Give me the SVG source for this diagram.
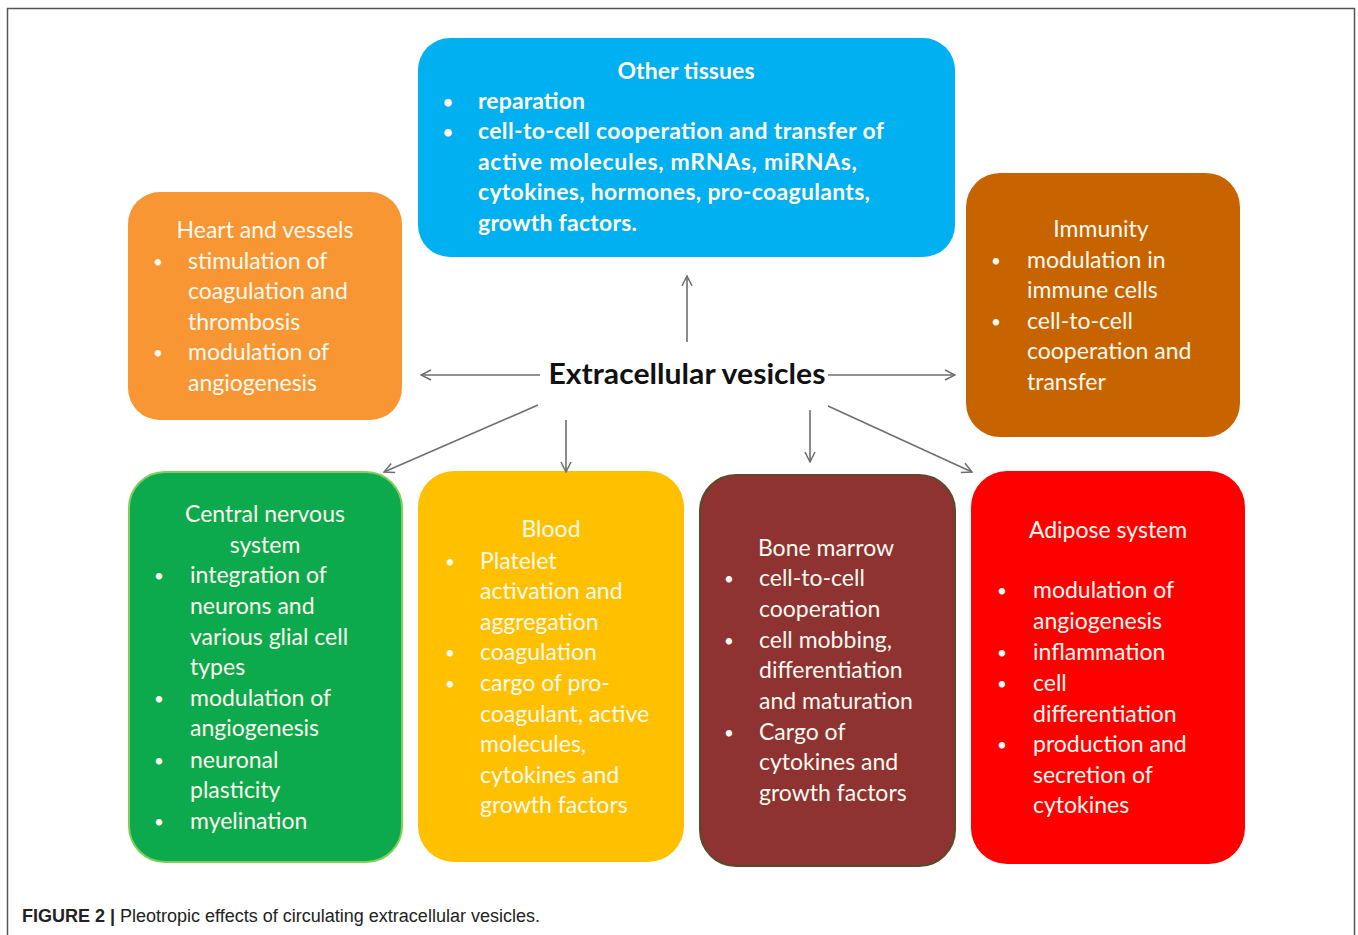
<svg xmlns="http://www.w3.org/2000/svg" width="1358" height="935" viewBox="0 0 1358 935">
<defs>
<style>
.t{font-family:Lato,"Open Sans","Liberation Sans",sans-serif;font-size:23px;fill:#FFFAF0}
.u{font-family:Lato,"Open Sans","Liberation Sans",sans-serif;font-size:17px;fill:#FFFAF0}
.b{font-weight:bold}
.c{text-anchor:middle}
.conn line{stroke:#6E6E6E;stroke-width:1.6;fill:none;marker-end:url(#ah)}
</style>
<marker id="ah" viewBox="0 0 12 12" refX="11" refY="6" markerWidth="12" markerHeight="12" markerUnits="userSpaceOnUse" orient="auto">
<path d="M1,1 L11,6 L1,11" fill="none" stroke="#6E6E6E" stroke-width="1.5"/>
</marker>
</defs>
<rect x="0" y="0" width="1358" height="935" fill="#FFFFFF"/>
<rect x="7.5" y="8.5" width="1347" height="940" fill="none" stroke="#555555" stroke-width="1.5"/>

<g id="other-tissues">
<rect x="418" y="38" width="537" height="219" rx="32" fill="#00B0F0"/>
<text class="t b c" x="686" y="79" textLength="137" lengthAdjust="spacing">Other tissues</text>
<text class="u b" x="443" y="108">•</text><text class="t b" x="478" y="109" textLength="107" lengthAdjust="spacing">reparation</text>
<text class="u b" x="443" y="138">•</text><text class="t b" x="478" y="139" textLength="406" lengthAdjust="spacing">cell-to-cell cooperation and transfer of</text>
<text class="t b" x="478" y="170" textLength="379" lengthAdjust="spacing">active molecules, mRNAs, miRNAs,</text>
<text class="t b" x="478" y="200" textLength="392" lengthAdjust="spacing">cytokines, hormones, pro-coagulants,</text>
<text class="t b" x="478" y="231" textLength="159" lengthAdjust="spacing">growth factors.</text>
</g>

<g id="heart-vessels">
<rect x="128" y="192" width="274" height="228" rx="32" fill="#F79633"/>
<text class="t c" x="265" y="238">Heart and vessels</text>
<text class="u" x="153" y="268">•</text><text class="t" x="188" y="269">stimulation of</text>
<text class="t" x="188" y="299">coagulation and</text>
<text class="t" x="188" y="330">thrombosis</text>
<text class="u" x="153" y="359">•</text><text class="t" x="188" y="360">modulation of</text>
<text class="t" x="188" y="391">angiogenesis</text>
</g>

<g id="immunity">
<rect x="966" y="173" width="274" height="264" rx="34" fill="#C86400"/>
<text class="t c" x="1101" y="237">Immunity</text>
<text class="u" x="991" y="267">•</text><text class="t" x="1027" y="268">modulation in</text>
<text class="t" x="1027" y="298">immune cells</text>
<text class="u" x="991" y="328">•</text><text class="t" x="1027" y="329">cell-to-cell</text>
<text class="t" x="1027" y="359">cooperation and</text>
<text class="t" x="1027" y="390">transfer</text>
</g>

<g id="central-label">
<text x="687" y="384" font-family="Lato,'Open Sans','Liberation Sans',sans-serif" font-size="28" font-weight="bold" fill="#111111" text-anchor="middle" textLength="277" lengthAdjust="spacingAndGlyphs">Extracellular vesicles</text>
</g>

<g id="cns">
<rect x="129" y="472" width="273" height="390" rx="36" fill="#0CAA4C" stroke="#7FD05A" stroke-width="2"/>
<text class="t c" x="265" y="522">Central nervous</text>
<text class="t c" x="265" y="553">system</text>
<text class="u" x="154" y="582">•</text><text class="t" x="190" y="583">integration of</text>
<text class="t" x="190" y="614">neurons and</text>
<text class="t" x="190" y="645">various glial cell</text>
<text class="t" x="190" y="675">types</text>
<text class="u" x="154" y="705">•</text><text class="t" x="190" y="706">modulation of</text>
<text class="t" x="190" y="736">angiogenesis</text>
<text class="u" x="154" y="767">•</text><text class="t" x="190" y="768">neuronal</text>
<text class="t" x="190" y="798">plasticity</text>
<text class="u" x="154" y="828">•</text><text class="t" x="190" y="829">myelination</text>
</g>

<g id="blood">
<rect x="418" y="471" width="266" height="391" rx="36" fill="#FFC000"/>
<text class="t c" x="551" y="537">Blood</text>
<text class="u" x="445" y="568">•</text><text class="t" x="480" y="569">Platelet</text>
<text class="t" x="480" y="599">activation and</text>
<text class="t" x="480" y="630">aggregation</text>
<text class="u" x="445" y="659">•</text><text class="t" x="480" y="660">coagulation</text>
<text class="u" x="445" y="690">•</text><text class="t" x="480" y="691">cargo of  pro-</text>
<text class="t" x="480" y="722">coagulant, active</text>
<text class="t" x="480" y="752">molecules,</text>
<text class="t" x="480" y="783">cytokines and</text>
<text class="t" x="480" y="813">growth factors</text>
</g>

<g id="bone-marrow">
<rect x="700" y="475" width="255" height="391" rx="36" fill="#8E3232" stroke="#5A4A2A" stroke-width="2"/>
<text class="t c" x="826" y="556">Bone marrow</text>
<text class="u" x="724" y="585">•</text><text class="t" x="759" y="586">cell-to-cell</text>
<text class="t" x="759" y="617">cooperation</text>
<text class="u" x="724" y="647">•</text><text class="t" x="759" y="648">cell mobbing,</text>
<text class="t" x="759" y="678">differentiation</text>
<text class="t" x="759" y="709">and maturation</text>
<text class="u" x="724" y="739">•</text><text class="t" x="759" y="740">Cargo of</text>
<text class="t" x="759" y="770">cytokines and</text>
<text class="t" x="759" y="801">growth factors</text>
</g>

<g id="adipose">
<rect x="971" y="471" width="274" height="393" rx="36" fill="#FF0000"/>
<text class="t c" x="1108" y="538">Adipose system</text>
<text class="u" x="997" y="597">•</text><text class="t" x="1033" y="598">modulation of</text>
<text class="t" x="1033" y="629">angiogenesis</text>
<text class="u" x="997" y="659">•</text><text class="t" x="1033" y="660">inflammation</text>
<text class="u" x="997" y="690">•</text><text class="t" x="1033" y="691">cell</text>
<text class="t" x="1033" y="722">differentiation</text>
<text class="u" x="997" y="751">•</text><text class="t" x="1033" y="752">production and</text>
<text class="t" x="1033" y="783">secretion of</text>
<text class="t" x="1033" y="813">cytokines</text>
</g>

<g id="connectors" class="conn">
<line x1="687" y1="342" x2="687" y2="276"/>
<line x1="540" y1="375" x2="421" y2="375"/>
<line x1="828" y1="375" x2="955" y2="375"/>
<line x1="538" y1="405" x2="384" y2="472"/>
<line x1="566" y1="420" x2="566" y2="472"/>
<line x1="810" y1="410" x2="810" y2="462"/>
<line x1="828" y1="406" x2="972" y2="472"/>
</g>

<g id="caption">
<text x="22" y="922" font-family="'Liberation Sans',Arial,sans-serif" font-size="18" fill="#222222"><tspan font-weight="bold">FIGURE 2 |</tspan> Pleotropic effects of circulating extracellular vesicles.</text>
</g>
</svg>
